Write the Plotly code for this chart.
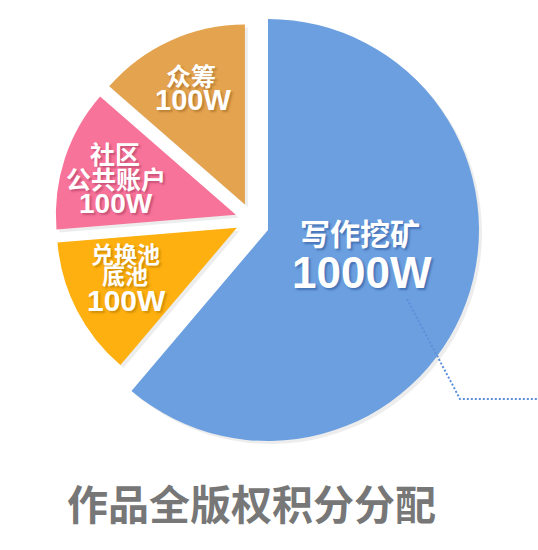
import plotly.graph_objects as go

# ---- data (clockwise from 12 o'clock) ----
categories = ["写作挖矿", "兑换池底池", "社区公共账户", "众筹"]
name_lines = [["写作挖矿"], ["兑换池", "底池"], ["社区", "公共账户"], ["众筹"]]
amounts = [1000, 100, 100, 100]          # displayed amounts (W)
shares = [61.2, 12.5, 12.7, 13.6]        # slice angle shares as drawn in the picture
unit = "W"
title_text = "作品全版权积分分配"

# ---- styling ----
W, H = 538, 550
colors = ["#6B9FDF", "#FDB00F", "#F77399", "#E3A34F"]
shadow_cols = ["rgba(40,80,150,0.55)", "rgba(170,110,0,0.5)", "rgba(160,50,90,0.5)", "rgba(150,95,30,0.5)"]
CJK = "Noto Sans CJK SC, Noto Sans, sans-serif"
NUM = "Liberation Sans, Arial, Noto Sans CJK SC, sans-serif"
CLEAR = "rgba(0,0,0,0)"
SHADE = "rgba(0,0,0,0.07)"


def px(x, y):
    return x / W, 1 - y / H


def dom(cx, cy, half):
    return dict(x=[(cx - half) / W, (cx + half) / W], y=[(H - cy - half) / H, (H - cy + half) / H])


fig = go.Figure()

big_r = 211
small_r = 180
pull = 17 / small_r


def big_pie(cols, cx, cy):
    return go.Pie(
        labels=categories, values=shares, sort=False, direction="clockwise", rotation=0,
        marker=dict(colors=cols, line=dict(width=0)),
        textinfo="none", hoverinfo="skip", showlegend=False,
        domain=dom(cx, cy, big_r),
    )


def small_pie(cols, cx, cy):
    return go.Pie(
        labels=categories, values=shares, sort=False, direction="clockwise", rotation=0,
        marker=dict(colors=cols, line=dict(width=0)),
        pull=[0, pull, pull, pull],
        textinfo="none", hoverinfo="skip", showlegend=False,
        domain=dom(cx, cy, small_r * (1 + pull)),
    )


# soft drop shadows
fig.add_trace(big_pie([SHADE] + [CLEAR] * 3, 271, 233))
fig.add_trace(small_pie([CLEAR] + [SHADE] * 3, 255, 223))
# large slice (写作挖矿) – drawn with a larger radius
fig.add_trace(big_pie([colors[0]] + [CLEAR] * 3, 268, 230))
# small slices – smaller radius, pulled out
fig.add_trace(small_pie([CLEAR] + colors[1:], 252, 220))

# ---- labels ----
label_layout = [
    # (name line centres, name size, amount centre, amount size)
    ([(360, 232)], 30, (362, 272), 44),
    ([(125, 253), (125, 274)], 23, (126, 300), 30),
    ([(115, 153), (116, 178)], 25, (116, 203), 28),
    ([(191, 75)], 25, (193, 100), 29),
]
annotations = []
for i, (lines_pos, nsize, apos, asize) in enumerate(label_layout):
    for line, (x, y) in zip(name_lines[i], lines_pos):
        ax, ay = px(x, y)
        annotations.append(dict(
            x=ax, y=ay, xref="paper", yref="paper", text=line, showarrow=False,
            xanchor="center", yanchor="middle",
            font=dict(family=CJK, size=nsize, color="white", weight="bold",
                      shadow=f"2px 2px 2px {shadow_cols[i]}"),
        ))
    ax, ay = px(*apos)
    annotations.append(dict(
        x=ax, y=ay, xref="paper", yref="paper", text=f"{amounts[i]}{unit}", showarrow=False,
        xanchor="center", yanchor="middle",
        font=dict(family=NUM, size=asize, color="white", weight="bold",
                  shadow=f"2px 2px 2px {shadow_cols[i]}"),
    ))

tx, ty = px(251, 502)
annotations.append(dict(
    x=tx, y=ty, xref="paper", yref="paper", text=title_text, showarrow=False,
    xanchor="center", yanchor="middle",
    font=dict(family=CJK, size=41, color="#777777", weight="bold"),
))

# dotted leader line
p1, p2, p3 = px(407, 299), px(460, 399), px(538, 399)
shapes = [dict(
    type="path", xref="paper", yref="paper",
    path=f"M {p1[0]},{p1[1]} L {p2[0]},{p2[1]} L {p3[0]},{p3[1]}",
    line=dict(color="#5B8FDB", width=2, dash="2px,2px"),
)]

fig.update_layout(
    width=W, height=H, margin=dict(l=0, r=0, t=0, b=0),
    paper_bgcolor="white", plot_bgcolor="white",
    annotations=annotations, shapes=shapes, showlegend=False,
)

fig.write_html("out.html")
